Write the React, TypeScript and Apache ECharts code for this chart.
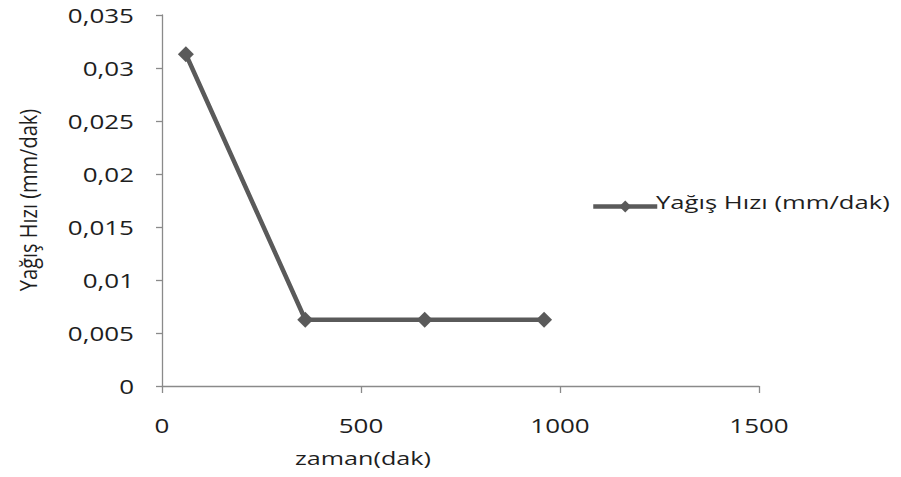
import React, { useEffect, useRef } from "react";
import * as echarts from "echarts";

const xValues = [60, 360, 660, 960];
const yValues = [0.0313, 0.00625, 0.00625, 0.00625];
const seriesName = "Yağış Hızı (mm/dak)";
const xTitle = "zaman(dak)";
const yTitle = "Yağış Hızı (mm/dak)";
const xTickValues = [0, 500, 1000, 1500];
const yTickValues = [0, 0.005, 0.01, 0.015, 0.02, 0.025, 0.03, 0.035];
const xTickLabels = ["0", "500", "1000", "1500"];
const yTickLabels = ["0", "0,005", "0,01", "0,015", "0,02", "0,025", "0,03", "0,035"];

const FONT = "'Open Sans', 'Noto Sans', sans-serif";
const TEXT = "#1e1e1e";
const AXIS = "#8a8a8a";
const LINE = "#5a5a5a";

export default function App() {
  const ref = useRef<HTMLDivElement>(null);
  useEffect(() => {
    if (!ref.current) return;
    document.body.style.margin = "0";
    const chart = echarts.init(ref.current, null, { renderer: "svg" });
    chart.setOption({
      animation: false,
      backgroundColor: "#ffffff",
      grid: { left: 162, top: 15, right: 142, bottom: 91, containLabel: false },
      legend: {
        data: [seriesName],
        left: 586,
        top: 194,
        itemWidth: 64,
        itemHeight: 15,
        formatter: () => "",
        textStyle: { fontSize: 1 },
        lineStyle: { width: 4.5, color: LINE },
        itemStyle: { color: LINE },
      },
      xAxis: {
        type: "value",
        min: 0,
        max: 1500,
        interval: 500,
        splitLine: { show: false },
        axisLine: { show: true, lineStyle: { color: AXIS, width: 1.3 } },
        axisTick: { show: true, length: 7, lineStyle: { color: AXIS, width: 1.3 } },
        axisLabel: { show: false },
      },
      yAxis: {
        type: "value",
        min: 0,
        max: 0.035,
        interval: 0.005,
        splitLine: { show: false },
        axisLine: { show: true, lineStyle: { color: AXIS, width: 1.3 } },
        axisTick: { show: true, length: 6, lineStyle: { color: AXIS, width: 1.3 } },
        axisLabel: { show: false },
      },
      series: [
        {
          name: seriesName,
          type: "line",
          data: xValues.map((x, i) => [x, yValues[i]]),
          symbol: "diamond",
          symbolSize: 16,
          lineStyle: { color: LINE, width: 4.5 },
          itemStyle: { color: LINE },
        },
      ],
    });

    const graphics: any[] = [];
    xTickValues.forEach((v, i) => {
      const px = chart.convertToPixel({ xAxisIndex: 0 }, v) as number;
      graphics.push({
        type: "text",
        x: px,
        y: 425,
        scaleX: 1.3,
        style: {
          text: xTickLabels[i],
          font: `20px ${FONT}`,
          fill: TEXT,
          align: "center",
          verticalAlign: "middle",
        },
      });
    });
    yTickValues.forEach((v, i) => {
      const py = chart.convertToPixel({ yAxisIndex: 0 }, v) as number;
      graphics.push({
        type: "text",
        x: 134,
        y: py,
        scaleX: 1.3,
        style: {
          text: yTickLabels[i],
          font: `20px ${FONT}`,
          fill: TEXT,
          align: "right",
          verticalAlign: "middle",
        },
      });
    });
    graphics.push({
      type: "text",
      x: 363,
      y: 458,
      scaleX: 1.4,
      style: {
        text: xTitle,
        font: `18px ${FONT}`,
        fill: TEXT,
        align: "center",
        verticalAlign: "middle",
      },
    });
    graphics.push({
      type: "text",
      x: 28,
      y: 200,
      rotation: Math.PI / 2,
      scaleY: 1.15,
      style: {
        text: yTitle,
        font: `20px ${FONT}`,
        fill: TEXT,
        align: "center",
        verticalAlign: "middle",
      },
    });
    graphics.push({
      type: "text",
      x: 656,
      y: 202,
      scaleX: 1.35,
      style: {
        text: seriesName,
        font: `19px ${FONT}`,
        fill: TEXT,
        align: "left",
        verticalAlign: "middle",
      },
    });
    chart.setOption({ graphic: graphics });

    return () => chart.dispose();
  }, []);
  return <div ref={ref} style={{ width: 901, height: 477 }} />;
}
